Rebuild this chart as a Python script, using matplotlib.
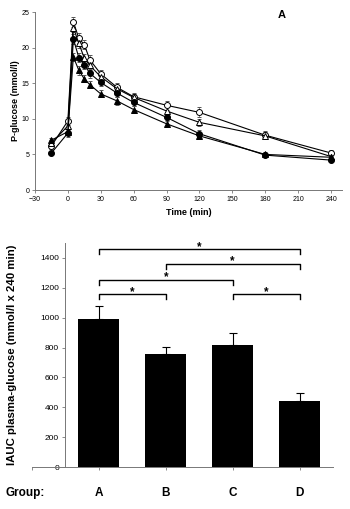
import matplotlib.pyplot as plt

plt.rcParams["font.family"] = ["Liberation Sans", "DejaVu Sans"]

# glucose curves (panel A)
time = [-15, 0, 5, 10, 15, 20, 30, 45, 60, 90, 120, 180, 240]
open_circle = [6.2, 9.7, 23.6, 21.3, 20.4, 18.3, 16.3, 14.4, 13.1, 11.9, 10.9, 7.7, 5.2]
open_circle_err = [0.4, 0.6, 0.7, 0.7, 0.6, 0.6, 0.6, 0.6, 0.5, 0.6, 0.7, 0.6, 0.4]
open_triangle = [6.6, 9.0, 22.8, 20.6, 18.5, 17.5, 15.9, 14.2, 13.0, 11.1, 9.5, 7.6, 4.7]
open_triangle_err = [0.4, 0.6, 0.6, 0.6, 0.6, 0.6, 0.6, 0.5, 0.5, 0.5, 0.5, 0.5, 0.4]
filled_circle = [5.2, 8.0, 21.2, 18.6, 17.6, 16.4, 15.1, 13.6, 12.3, 10.2, 7.9, 4.9, 4.2]
filled_circle_err = [0.3, 0.5, 0.7, 0.6, 0.6, 0.6, 0.5, 0.5, 0.5, 0.5, 0.5, 0.3, 0.3]
filled_triangle = [7.0, 8.2, 18.7, 16.8, 15.6, 14.8, 13.5, 12.5, 11.3, 9.3, 7.6, 5.0, 4.6]
filled_triangle_err = [0.3, 0.5, 0.6, 0.6, 0.5, 0.5, 0.5, 0.5, 0.5, 0.5, 0.5, 0.3, 0.3]

# IAUC bars
groups = ["A", "B", "C", "D"]
iauc = [990, 757, 820, 440]
iauc_err = [88, 48, 75, 57]
# significance brackets: (from, to, height)
brackets = [(0, 3, 1458), (1, 3, 1360), (0, 2, 1255), (0, 1, 1157), (2, 3, 1157)]

fig = plt.figure(figsize=(3.5, 5.09), dpi=100)

# --- top panel ---
ax1 = fig.add_axes([0.1, 0.6267, 0.877, 0.3497])
series = [
    (open_circle, open_circle_err, "o", "white"),
    (open_triangle, open_triangle_err, "^", "white"),
    (filled_circle, filled_circle_err, "o", "black"),
    (filled_triangle, filled_triangle_err, "^", "black"),
]
for vals, err, m, fc in series:
    ax1.errorbar(time, vals, yerr=err, color="black", lw=0.8, marker=m,
                 markersize=4.3, markerfacecolor=fc, markeredgecolor="black",
                 markeredgewidth=0.7, ecolor="#555555", elinewidth=0.5,
                 capsize=1.5, capthick=0.5)
ax1.set_xlim(-30, 250)
ax1.set_ylim(0, 25)
ax1.set_xticks(range(-30, 241, 30))
ax1.set_yticks(range(0, 26, 5))
ax1.spines["top"].set_visible(False)
ax1.spines["right"].set_visible(False)
for s in ["left", "bottom"]:
    ax1.spines[s].set_color("#777777")
    ax1.spines[s].set_linewidth(0.7)
ax1.tick_params(labelsize=5, length=2, width=0.6, color="#777777", pad=2)
ax1.set_ylabel("P-glucose (mmol/l)", fontsize=6.5, fontweight="bold", labelpad=1)
ax1.set_xlabel("Time (min)", fontsize=6.5, fontweight="bold", labelpad=4)
ax1.text(0.79, 0.955, "A", transform=ax1.transAxes, fontsize=8,
         fontweight="bold", va="bottom")

# --- bottom panel ---
ax2 = fig.add_axes([0.0914, 0.0825, 0.86, 0.4401])
x = list(range(len(groups)))
ax2.bar(x, iauc, width=0.61, color="black")
ax2.errorbar(x, iauc, yerr=[[0] * len(iauc), iauc_err], fmt="none",
             ecolor="black", elinewidth=0.8, capsize=3, capthick=0.8)
for a, b, h in brackets:
    ax2.plot([a, a, b, b], [h - 33, h, h, h - 33], color="black", lw=1.0)
    ax2.text((a + b) / 2, h - 5, "*", ha="center", va="baseline",
             fontsize=8.5, fontweight="bold")
ax2.set_xlim(-1, 3.5)
ax2.set_ylim(0, 1500)
ax2.set_yticks(range(0, 1401, 200))
ax2.set_xticks([-1] + x)
ax2.set_xticklabels([""] + groups, fontsize=8.5, fontweight="bold")
ax2.spines["top"].set_visible(False)
ax2.spines["right"].set_visible(False)
ax2.spines["left"].set_position(("data", -0.5))
for s in ["left", "bottom"]:
    ax2.spines[s].set_color("#777777")
    ax2.spines[s].set_linewidth(0.7)
ax2.tick_params(axis="y", labelsize=6, length=2.5, width=0.6, color="#777777", pad=2)
ax2.tick_params(axis="x", length=2.5, width=0.6, color="#777777", pad=12)
ax2.set_ylabel("IAUC plasma-glucose (mmol/l x 240 min)", fontsize=8.2,
               fontweight="bold")
ax2.yaxis.set_label_coords(-0.05, 0.5)
fig.text(0.015, 0.032, "Group:", fontsize=8.5, fontweight="bold", va="center")

fig.savefig("out.png", dpi=100)
